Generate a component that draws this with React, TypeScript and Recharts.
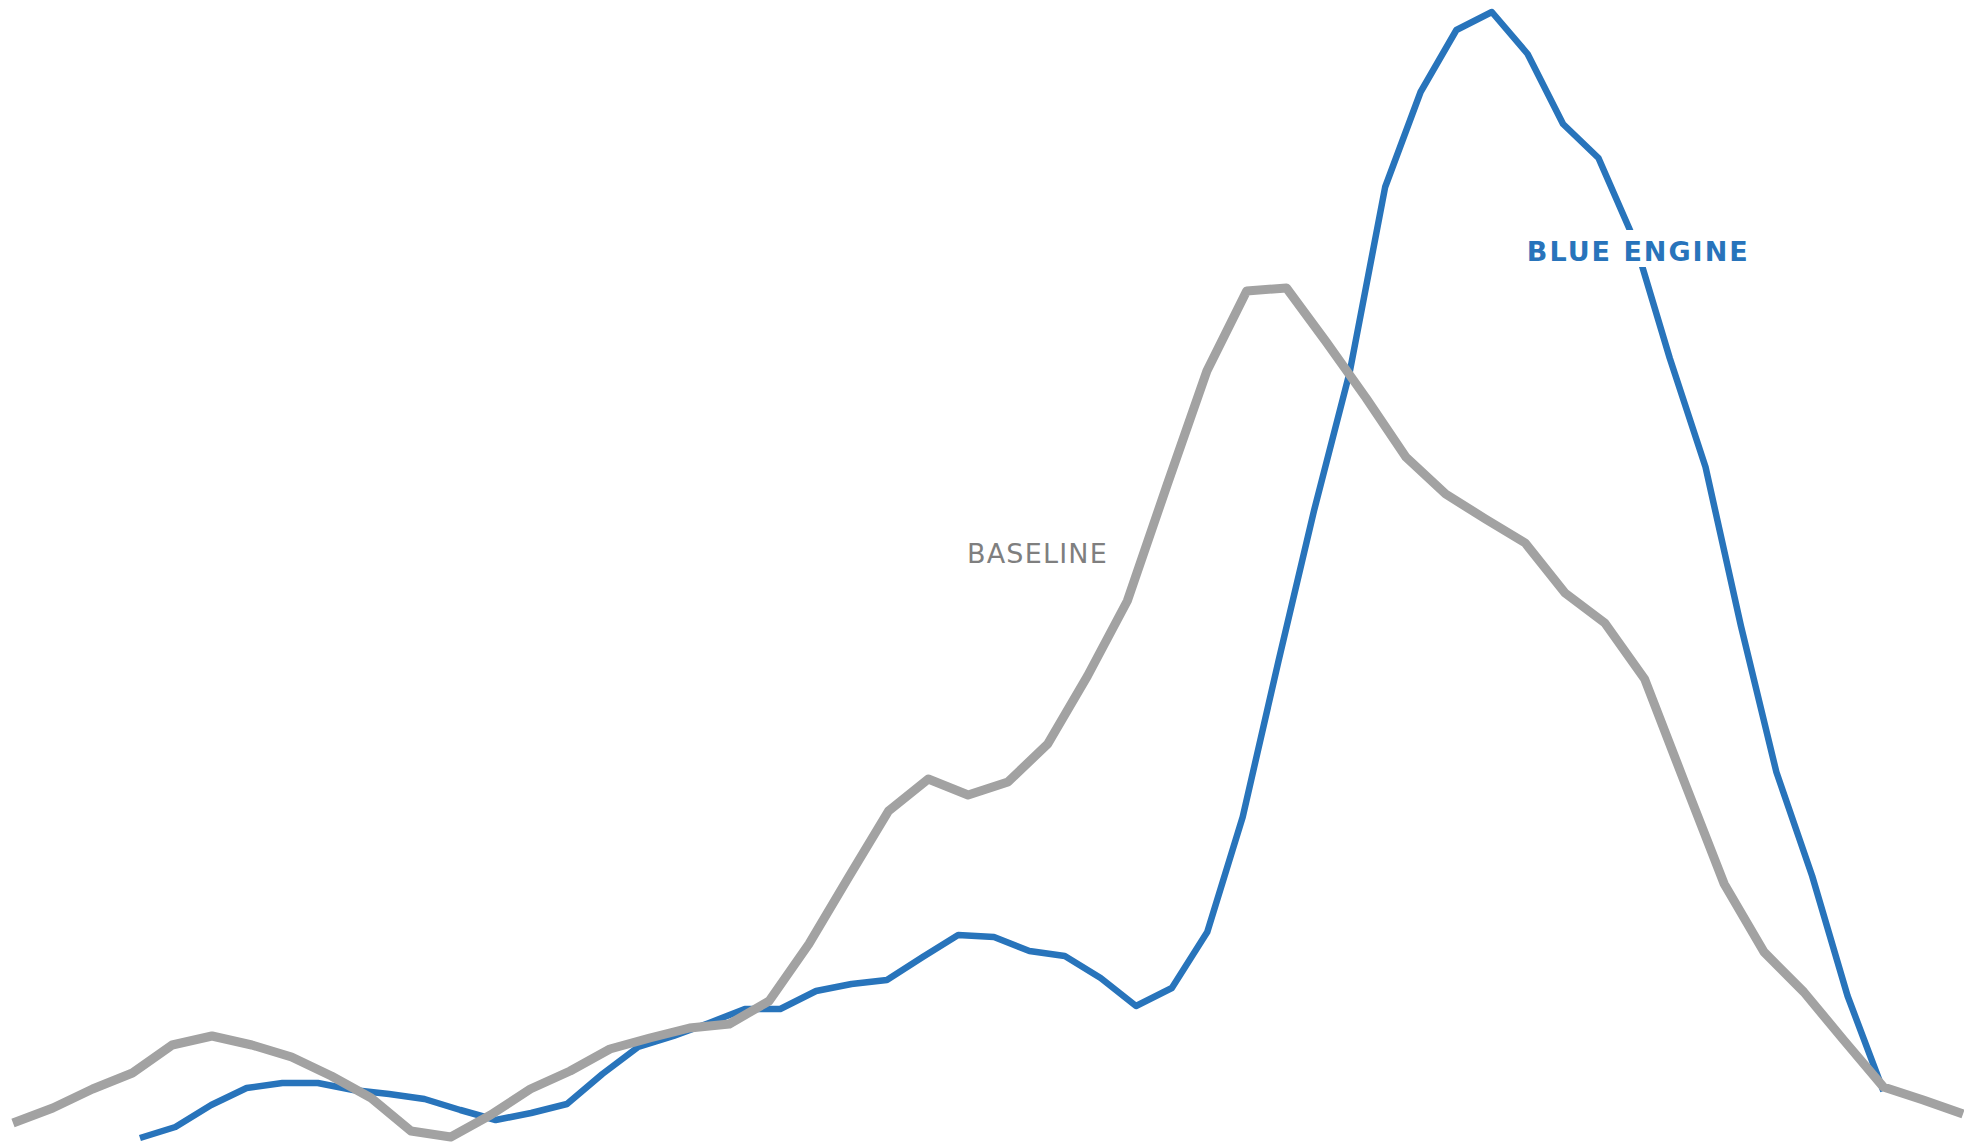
import React from 'react';
import { LineChart, Line, XAxis, YAxis, ReferenceDot } from 'recharts';

// baseline series, 50 evenly spaced bins
const baselineX = [
  0, 1, 2, 3, 4, 5, 6, 7, 8, 9, 10, 11, 12, 13, 14, 15, 16, 17, 18, 19, 20, 21, 22, 23, 24,
  25, 26, 27, 28, 29, 30, 31, 32, 33, 34, 35, 36, 37, 38, 39, 40, 41, 42, 43, 44, 45, 46, 47, 48, 49,
];
const baselineY = [
  1.9, 3.4, 5.3, 6.9, 9.7, 10.6, 9.7, 8.5, 6.6, 4.4, 1.1, 0.5, 2.7, 5.3, 7.1, 9.3, 10.4, 11.4, 11.8, 14.1,
  19.8, 26.5, 33.1, 36.3, 34.7, 36.0, 39.8, 46.6, 54.1, 65.7, 77.1, 85.1, 85.4, 80.0, 74.4, 68.5, 64.8, 62.3, 59.9, 54.9,
  51.9, 46.3, 36.0, 25.8, 19.0, 15.0, 10.2, 5.5, 4.2, 2.8,
];

// blue engine series, narrower range on the same axis
const blueX = [
  3.19, 4.08, 4.98, 5.87, 6.77, 7.66, 8.55, 9.45, 10.34, 11.24, 12.13, 13.02, 13.92, 14.81, 15.71, 16.6, 17.49,
  18.39, 19.28, 20.18, 21.07, 21.96, 22.86, 23.75, 24.65, 25.54, 26.43, 27.33, 28.22, 29.12, 30.01, 30.9, 31.8,
  32.69, 33.59, 34.48, 35.37, 36.27, 37.16, 38.06, 38.95, 39.84, 40.74, 41.63, 42.53, 43.42, 44.31, 45.21, 46.1, 47.0,
];
const blueY = [
  0.4, 1.5, 3.7, 5.4, 5.9, 5.9, 5.2, 4.8, 4.3, 3.2, 2.2, 2.9, 3.8, 6.8, 9.5, 10.6, 11.9, 13.3, 13.3, 15.1,
  15.8, 16.2, 18.5, 20.7, 20.5, 19.1, 18.6, 16.4, 13.6, 15.4, 21.0, 32.5, 48.1, 63.1, 77.0, 95.5, 105.0, 111.2, 113.0, 108.8,
  101.8, 98.4, 90.2, 78.4, 67.5, 51.6, 37.0, 26.6, 14.6, 5.1,
];

const baselineData = baselineX.map((x, i) => ({ x, y: baselineY[i] }));
const blueData = blueX.map((x, i) => ({ x, y: blueY[i] }));

const BLUE = '#2874bb';
const GRAY = '#a2a2a2';

const BaselineLabel = ({ viewBox }: any) => (
  <text
    x={viewBox.x}
    y={viewBox.y}
    fill="#7f7f7f"
    fontFamily="DejaVu Sans"
    fontSize={27}
    letterSpacing={1.2}
  >
    BASELINE
  </text>
);

const BlueLabel = ({ viewBox }: any) => (
  <g>
    <rect x={viewBox.x - 8} y={viewBox.y - 31} width={240} height={37} fill="#fff" />
    <text
      x={viewBox.x}
      y={viewBox.y}
      fill={BLUE}
      fontFamily="DejaVu Sans"
      fontWeight="bold"
      fontSize={27}
      letterSpacing={2}
    >
      BLUE ENGINE
    </text>
  </g>
);

export default function App() {
  return (
    <div style={{ position: 'absolute', left: 0, top: 0, width: 1964, height: 1142, background: '#fff' }}>
      <LineChart width={1964} height={1142} margin={{ top: 0, right: 1, bottom: 0, left: 13 }}>
        <XAxis dataKey="x" type="number" domain={[0, 49]} hide />
        <YAxis type="number" domain={[0, 114.2]} hide />
        <Line
          data={blueData}
          dataKey="y"
          stroke={BLUE}
          strokeWidth={6.5}
          strokeLinejoin="round"
          dot={false}
          activeDot={false}
          isAnimationActive={false}
        />
        <Line
          data={baselineData}
          dataKey="y"
          stroke={GRAY}
          strokeWidth={9}
          strokeLinejoin="round"
          dot={false}
          activeDot={false}
          isAnimationActive={false}
        />
        <ReferenceDot x={23.97} y={57.9} r={0} fill="none" stroke="none" label={<BaselineLabel />} />
        <ReferenceDot x={38.04} y={88.1} r={0} fill="none" stroke="none" label={<BlueLabel />} />
      </LineChart>
    </div>
  );
}
